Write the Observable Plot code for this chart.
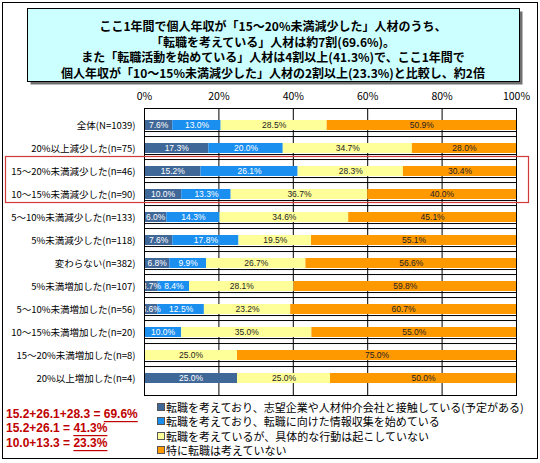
<!DOCTYPE html>
<html>
<head>
<meta charset="utf-8">
<script src="https://cdn.jsdelivr.net/npm/d3@7"></script>
<script src="https://cdn.jsdelivr.net/npm/@observablehq/plot@0.6"></script>
<style>
  html, body { margin: 0; padding: 0; background: #fff; }
  #chart { width: 540px; height: 463px; }
</style>
</head>
<body>
<div id="chart"></div>
<script>
const categories = [
  "全体(N=1039)",
  "20%以上減少した(n=75)",
  "15～20%未満減少した(n=46)",
  "10～15%未満減少した(n=90)",
  "5～10%未満減少した(n=133)",
  "5%未満減少した(n=118)",
  "変わらない(n=382)",
  "5%未満増加した(n=107)",
  "5～10%未満増加した(n=56)",
  "10～15%未満増加した(n=20)",
  "15～20%未満増加した(n=8)",
  "20%以上増加した(n=4)"
];
const series = [
  "転職を考えており、志望企業や人材仲介会社と接触している(予定がある)",
  "転職を考えており、転職に向けた情報収集を始めている",
  "転職を考えているが、具体的な行動は起こしていない",
  "特に転職は考えていない"
];
const contactValues     = [7.6, 17.3, 15.2, 10.0, 6.0, 7.6, 6.8, 3.7, 3.6, 0, 0, 25.0];
const collectingValues  = [13.0, 20.0, 26.1, 13.3, 14.3, 17.8, 9.9, 8.4, 12.5, 10.0, 0, 0];
const consideringValues = [28.5, 34.7, 28.3, 36.7, 34.6, 19.5, 26.7, 28.1, 23.2, 35.0, 25.0, 25.0];
const notValues         = [50.9, 28.0, 30.4, 40.0, 45.1, 55.1, 56.6, 59.8, 60.7, 55.0, 75.0, 50.0];
const xTicks = [0, 20, 40, 60, 80, 100];
const colors = ["#3f6797", "#1b8ff0", "#ffff99", "#ff9900"];

const titleLines = [
  "ここ1年間で個人年収が「15～20%未満減少した」人材のうち、",
  "「転職を考えている」人材は約7割(69.6%)。",
  "また「転職活動を始めている」人材は4割以上(41.3%)で、ここ1年間で",
  "個人年収が「10～15%未満減少した」人材の2割以上(23.3%)と比較し、約2倍"
];
const noteFormulas = ["15.2+26.1+28.3 = ", "15.2+26.1 = ", "10.0+13.3 = "];
const noteResults = ["69.6%", "41.3%", "23.3%"];

const seriesValues = [contactValues, collectingValues, consideringValues, notValues];
const rows = [];
series.forEach((s, si) => {
  categories.forEach((c, ci) => {
    rows.push({category: c, series: s, si, value: seriesValues[si][ci]});
  });
});

const W = 540, H = 463;
const mTop = 108, mLeft = 144, mRight = 24, mBottom = 68;
const step = (H - mTop - mBottom) / categories.length;
const label = d => d.value.toFixed(1) + "%";
const labelFont = "'Liberation Sans', sans-serif";
const jpFont = "'Noto Sans CJK JP', sans-serif";

const chart = Plot.plot({
  width: W, height: H,
  marginTop: mTop, marginLeft: mLeft, marginRight: mRight, marginBottom: mBottom,
  style: {fontFamily: jpFont, fontSize: "10px", background: "white", color: "black", overflow: "visible"},
  x: {domain: [0, 100], label: null},
  y: {domain: categories, paddingInner: 0.56, paddingOuter: 0.28, label: null},
  color: {domain: series, range: colors},
  marks: [
    Plot.ruleX(xTicks.slice(1, -1), {stroke: "black", strokeWidth: 1, strokeOpacity: 1}),
    Plot.ruleY(categories.slice(1), {dy: -step / 2, stroke: "black", strokeOpacity: 1}),
    Plot.ruleY(categories.slice(1), {dy: -step / 2 - 5, stroke: "black", strokeOpacity: 1}),
    Plot.barX(rows, Plot.stackX({x: "value", y: "category", fill: "series", order: null})),
    Plot.text(rows, Plot.stackX({
      x: "value", y: "category", z: "series", order: null,
      text: d => (d.value > 0 && d.si < 2) ? label(d) : null,
      fill: "white", fontSize: 8.5, fontFamily: labelFont
    })),
    Plot.text(rows, Plot.stackX({
      x: "value", y: "category", z: "series", order: null,
      text: d => (d.value > 0 && d.si >= 2) ? label(d) : null,
      fill: "#222", fontSize: 8.5, fontFamily: labelFont
    })),
    Plot.frame({stroke: "black"}),
    Plot.axisX({anchor: "top", ticks: xTicks, tickFormat: d => d + "%", tickSize: 0, tickPadding: 9, fontSize: 10.5, label: null}),
    Plot.axisY({tickSize: 0, tickPadding: 9, label: null, fontSize: 9.5})
  ]
});

document.getElementById("chart").appendChild(chart);
const svg = d3.select(chart);

// outer frame
svg.append("rect").attr("x", 2.5).attr("y", 2.5).attr("width", 535).attr("height", 456)
  .attr("fill", "none").attr("stroke", "black");

// title box with shadow
svg.append("rect").attr("x", 30.5).attr("y", 11.5).attr("width", 492).attr("height", 73)
  .attr("fill", "#707070");
svg.append("rect").attr("x", 27.5).attr("y", 8.5).attr("width", 492).attr("height", 73)
  .attr("fill", "#ccffff").attr("stroke", "black");
const titleY = [25, 41, 56, 72];
titleLines.forEach((t, i) => {
  svg.append("text").attr("x", 273).attr("y", titleY[i])
    .attr("text-anchor", "middle").attr("dominant-baseline", "central")
    .attr("font-family", jpFont).attr("font-weight", "bold")
    .attr("font-size", 12).attr("fill", "black").text(t);
});

// red highlight box
svg.append("rect").attr("x", 5.5).attr("y", 156.5).attr("width", 523).attr("height", 46)
  .attr("fill", "none").attr("stroke", "#d03a3a").attr("stroke-width", 1.2);

// legend
const legY = [407, 421, 436, 450];
series.forEach((s, i) => {
  svg.append("rect").attr("x", 157.5).attr("y", legY[i] - 3.5).attr("width", 7).attr("height", 7)
    .attr("fill", colors[i]).attr("stroke", "#555");
  svg.append("text").attr("x", 166).attr("y", legY[i]).attr("dominant-baseline", "central")
    .attr("text-anchor", "start")
    .attr("font-family", jpFont).attr("font-size", 11)
    .attr("fill", "black").text(s);
});

// notes
const noteY = [414, 428, 443];
noteFormulas.forEach((f, i) => {
  const t = svg.append("text").attr("x", 6).attr("y", noteY[i]).attr("dominant-baseline", "central")
    .attr("text-anchor", "start")
    .attr("font-family", "'Liberation Sans', sans-serif").attr("font-weight", "bold")
    .attr("font-size", 12).attr("fill", "#c00000");
  t.append("tspan").text(f);
  t.append("tspan").attr("text-decoration", "underline").text(noteResults[i]);
});
</script>
</body>
</html>
